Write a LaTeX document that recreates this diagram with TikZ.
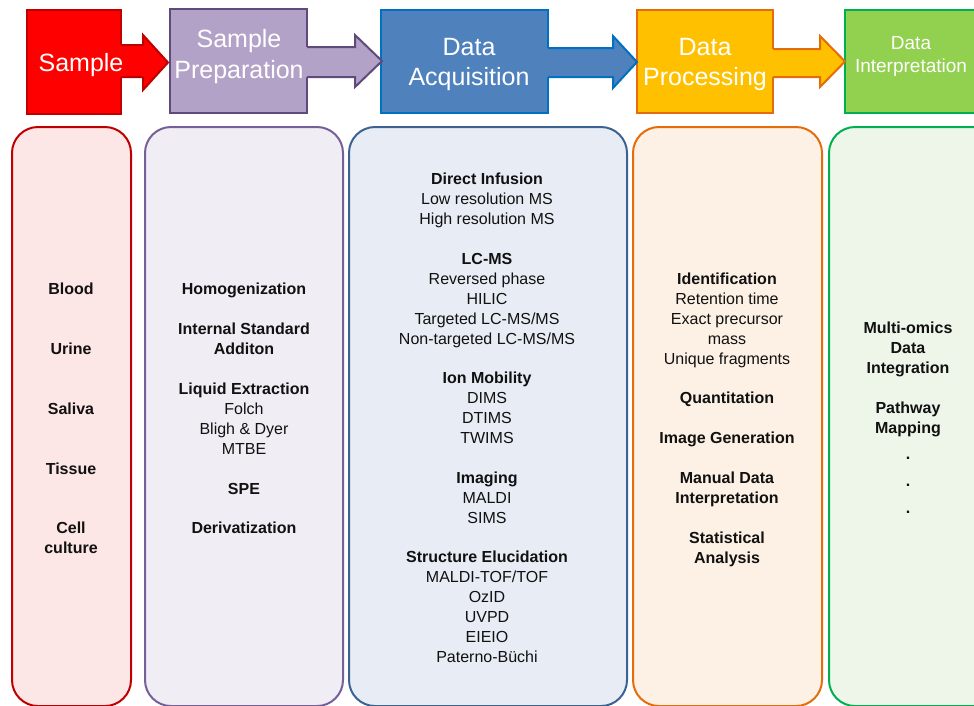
\documentclass[tikz,border=0pt]{standalone}
\usepackage{fontspec}
\setmainfont{Liberation Sans}
\definecolor{sRed}{HTML}{FF0000}
\definecolor{sRedB}{HTML}{C00000}
\definecolor{pFill}{HTML}{B3A2C7}
\definecolor{pBord}{HTML}{604A7B}
\definecolor{aFill}{HTML}{4F81BD}
\definecolor{aBord}{HTML}{0070C0}
\definecolor{oFill}{HTML}{FFC000}
\definecolor{oBord}{HTML}{E46C0A}
\definecolor{gFill}{HTML}{92D050}
\definecolor{gBord}{HTML}{00B050}
\definecolor{lRed}{HTML}{FDE6E6}
\definecolor{lPur}{HTML}{F0EEF4}
\definecolor{lPurB}{HTML}{76609A}
\definecolor{lBlu}{HTML}{E8EDF5}
\definecolor{lBluB}{HTML}{3B6291}
\definecolor{lOra}{HTML}{FDF1E5}
\definecolor{lGre}{HTML}{EDF6E8}
\definecolor{txt}{HTML}{111111}
\newcommand\BoldLine[4]{\node[bl] (#1) at (#2,#3) {#4};}
\newcommand\NormLine[4]{\node[nl] (#1) at (#2,#3) {#4};}
% arrow: #1 fill, #2 border, #3 box right x, #4 head base x, #5 tip x, #6 shaft top, #7 shaft bottom, #8 head top, #9 head bottom
\newcommand\BlockArrow[9]{%
  \fill[#1] (#3-1.5,#6) -- (#4,#6) -- (#4,#8) -- (#5,{(#8+#9)/2}) -- (#4,#9) -- (#4,#7) -- (#3-1.5,#7) -- cycle;
  \draw[arr, draw=#2] (#3,#6) -- (#4,#6) -- (#4,#8) -- (#5,{(#8+#9)/2}) -- (#4,#9) -- (#4,#7) -- (#3,#7);}
\begin{document}
\begin{tikzpicture}[x=1pt,y=-1pt,
  hdr/.style={line width=2pt},
  arr/.style={line width=2pt, line join=miter},
  col/.style={line width=2pt, rounded corners=26pt},
  htxt/.style={text=white, font=\fontsize{25}{30}\selectfont, anchor=base, yshift=-9pt, inner sep=0pt},
  htxts/.style={text=white, font=\fontsize{19}{23}\selectfont, anchor=base, yshift=-6.8pt, inner sep=0pt},
  bl/.style={text=txt, font=\bfseries\fontsize{16}{20}\selectfont, anchor=base, yshift=-5.7pt, inner sep=0pt},
  nl/.style={text=txt, font=\fontsize{16}{20}\selectfont, anchor=base, yshift=-5.7pt, inner sep=0pt}]
\useasboundingbox (0,0) rectangle (974,705);
\clip (0,0) rectangle (974,705);

% ---- header boxes
\draw[hdr, draw=sRedB, fill=sRed] (27,10) rectangle (121,114);
\draw[hdr, draw=pBord, fill=pFill] (170,9) rectangle (307,113);
\draw[hdr, draw=aBord, fill=aFill] (381,10) rectangle (548,113);
\draw[hdr, draw=oBord, fill=oFill] (637,10) rectangle (773,113);
\draw[hdr, draw=gBord, fill=gFill] (845,10) rectangle (1000,113);

% ---- block arrows (on top of the source box)
\BlockArrow{sRed}{sRedB}{121}{143}{168}{45}{77}{35}{90}
\BlockArrow{pFill}{pBord}{307}{355}{382}{47}{77}{35}{87}
\BlockArrow{aFill}{aBord}{548}{613}{637}{48}{77}{36}{88}
\BlockArrow{oFill}{oBord}{773}{820}{845}{49}{77}{36}{87}

\node[htxt] (h1) at (81,62) {Sample};
\node[htxt] (h2a) at (239,38) {Sample};
\node[htxt] (h2b) at (239,69) {Preparation};
\node[htxt] (h3a) at (469,46) {Data};
\node[htxt] (h3b) at (469,76) {Acquisition};
\node[htxt] (h4a) at (705,46) {Data};
\node[htxt] (h4b) at (705,76) {Processing};
\node[htxts] (h5a) at (911,43) {Data};
\node[htxts] (h5b) at (911,66) {Interpretation};

% ---- columns
\draw[col, draw=sRedB, fill=lRed] (12,127) rectangle (131,706);
\draw[col, draw=lPurB, fill=lPur] (145,127) rectangle (343,706);
\draw[col, draw=lBluB, fill=lBlu] (349,127) rectangle (627,706);
\draw[col, draw=oBord, fill=lOra] (633,127) rectangle (822,706);
\draw[col, draw=gBord, fill=lGre] (829,127) rectangle (1010,706);

% column 1
\BoldLine{c1a}{71}{289}{Blood}
\BoldLine{c1b}{71}{349}{Urine}
\BoldLine{c1c}{71}{409}{Saliva}
\BoldLine{c1d}{71}{469}{Tissue}
\BoldLine{c1e}{71}{528}{Cell}
\BoldLine{c1f}{71}{548}{culture}

% column 2
\BoldLine{c2a}{244}{289}{Homogenization}
\BoldLine{c2b}{244}{329}{Internal Standard}
\BoldLine{c2c}{244}{349}{Additon}
\BoldLine{c2d}{244}{389}{Liquid Extraction}
\NormLine{c2e}{244}{409}{Folch}
\NormLine{c2f}{244}{429}{Bligh \& Dyer}
\NormLine{c2g}{244}{449}{MTBE}
\BoldLine{c2h}{244}{489}{SPE}
\BoldLine{c2i}{244}{528}{Derivatization}

% column 3
\BoldLine{c3a}{487}{179}{Direct Infusion}
\NormLine{c3b}{487}{199}{Low resolution MS}
\NormLine{c3c}{487}{219}{High resolution MS}
\BoldLine{c3d}{487}{259}{LC-MS}
\NormLine{c3e}{487}{279}{Reversed phase}
\NormLine{c3f}{487}{299}{HILIC}
\NormLine{c3g}{487}{319}{Targeted LC-MS/MS}
\NormLine{c3h}{487}{339}{Non-targeted LC-MS/MS}
\BoldLine{c3i}{487}{378}{Ion Mobility}
\NormLine{c3j}{487}{398}{DIMS}
\NormLine{c3k}{487}{418}{DTIMS}
\NormLine{c3l}{487}{438}{TWIMS}
\BoldLine{c3m}{487}{478}{Imaging}
\NormLine{c3n}{487}{498}{MALDI}
\NormLine{c3o}{487}{518}{SIMS}
\BoldLine{c3p}{487}{557}{Structure Elucidation}
\NormLine{c3q}{487}{577}{MALDI-TOF/TOF}
\NormLine{c3r}{487}{597}{OzID}
\NormLine{c3s}{487}{617}{UVPD}
\NormLine{c3t}{487}{637}{EIEIO}
\NormLine{c3u}{487}{657}{Paterno-Büchi}

% column 4
\BoldLine{c4a}{727}{279}{Identification}
\NormLine{c4b}{727}{299}{Retention time}
\NormLine{c4c}{727}{319}{Exact precursor}
\NormLine{c4d}{727}{339}{mass}
\NormLine{c4e}{727}{359}{Unique fragments}
\BoldLine{c4f}{727}{398}{Quantitation}
\BoldLine{c4g}{727}{438}{Image Generation}
\BoldLine{c4h}{727}{478}{Manual Data}
\BoldLine{c4i}{727}{498}{Interpretation}
\BoldLine{c4j}{727}{538}{Statistical}
\BoldLine{c4k}{727}{558}{Analysis}

% column 5
\BoldLine{c5a}{908}{328}{Multi-omics}
\BoldLine{c5b}{908}{348}{Data}
\BoldLine{c5c}{908}{368}{Integration}
\BoldLine{c5d}{908}{408}{Pathway}
\BoldLine{c5e}{908}{428}{Mapping}
\BoldLine{c5f}{908}{454}{.}
\BoldLine{c5g}{908}{481}{.}
\BoldLine{c5h}{908}{508}{.}
\end{tikzpicture}
\end{document}
